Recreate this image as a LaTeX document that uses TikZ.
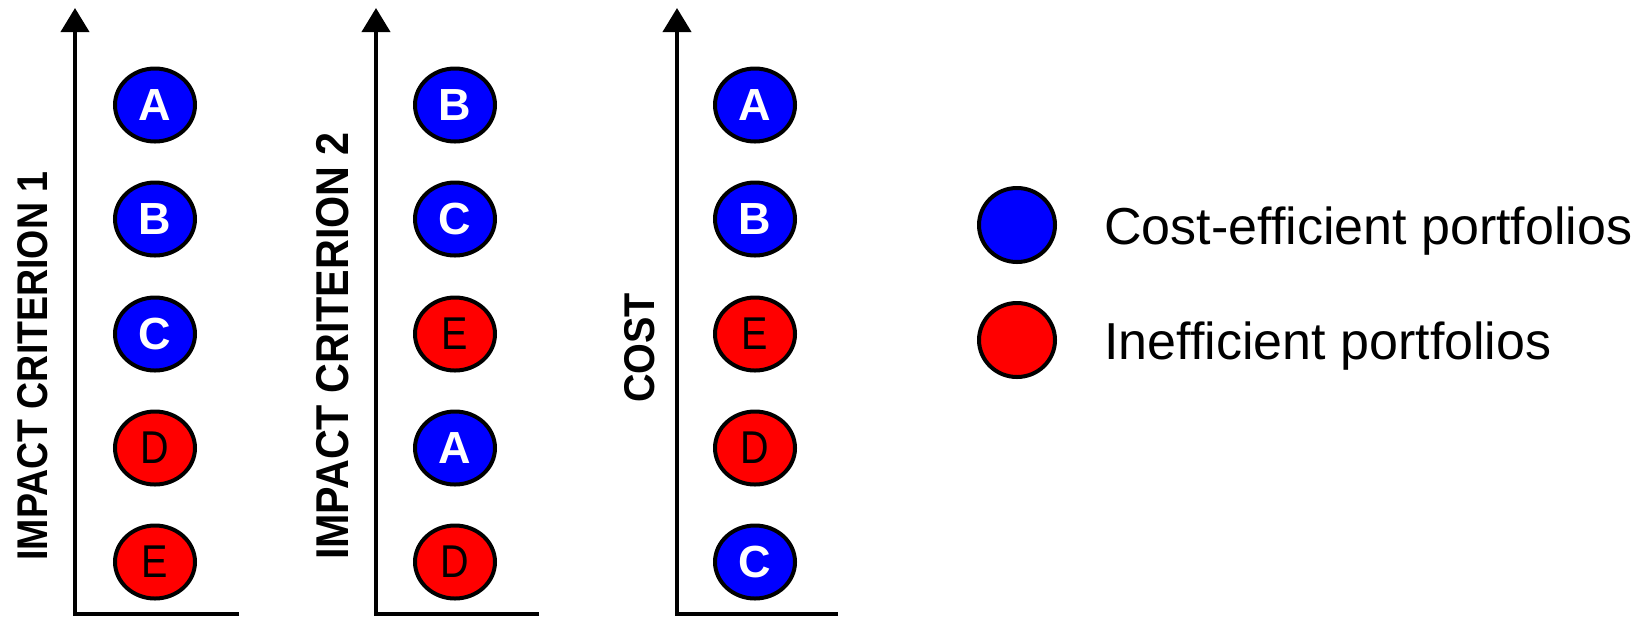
\documentclass[tikz,border=0pt]{standalone}
\usepackage{fontspec}
\usepackage{graphicx}
\usetikzlibrary{arrows.meta,shapes.geometric}
\newfontfamily\arialfont{Liberation Sans}
\definecolor{effblue}{RGB}{0,0,255}
\definecolor{ineffred}{RGB}{255,0,0}
\begin{document}
\begin{tikzpicture}[x=0.5pt,y=-0.5pt,
  axisline/.style={line width=2pt, line join=miter, -{Triangle[width=14pt,length=12pt]}},
  port/.style={ellipse, draw=black, line width=2pt, minimum width=40pt,
    minimum height=36.5pt, inner sep=0pt},
  eff/.style={port, fill=effblue, text=white,
    font=\arialfont\bfseries\fontsize{22.5}{26}\selectfont},
  ineff/.style={port, fill=ineffred, text=black,
    font=\arialfont\fontsize{23}{26}\selectfont},
  keydot/.style={ellipse, draw=black, line width=2pt, minimum width=38pt,
    minimum height=37pt, inner sep=0pt},
  keytext/.style={anchor=base west, inner sep=0pt,
    font=\arialfont\fontsize{26}{30}\selectfont},
  axislabel/.style={rotate=90, inner sep=0pt}
]
\useasboundingbox (0,0) rectangle (1641,618);

% axis corners and arrow ends
\coordinate (o1) at (75,614);  \coordinate (t1) at (75,8);  \coordinate (r1) at (239,614);
\coordinate (o2) at (376,614); \coordinate (t2) at (376,8); \coordinate (r2) at (539,614);
\coordinate (o3) at (677,614); \coordinate (t3) at (677,8); \coordinate (r3) at (838,614);

\draw[axisline] (r1) -- (o1) -- (t1);
\draw[axisline] (r2) -- (o2) -- (t2);
\draw[axisline] (r3) -- (o3) -- (t3);

% axis titles
\node[axislabel] (lab1) at (33,366)
  {\arialfont\bfseries\fontsize{21.5}{24}\selectfont\scalebox{0.873}[1]{IMPACT CRITERION 1}};
\node[axislabel] (lab2) at (333,346)
  {\arialfont\bfseries\fontsize{23}{26}\selectfont\scalebox{0.897}[1]{IMPACT CRITERION 2}};
\node[axislabel] (lab3) at (640,348)
  {\arialfont\bfseries\fontsize{21.5}{24}\selectfont\scalebox{0.92}[1]{COST}};

% ranking by impact criterion 1
\node[eff]   (p1a) at (155,105) {A};
\node[eff]   (p1b) at (155,219) {B};
\node[eff]   (p1c) at (155,334) {C};
\node[ineff] (p1d) at (155,448) {\scalebox{0.86}[1]{D}};
\node[ineff] (p1e) at (155,562) {\scalebox{0.86}[1]{E}};

% ranking by impact criterion 2
\node[eff]   (p2b) at (455,105) {B};
\node[eff]   (p2c) at (455,219) {C};
\node[ineff] (p2e) at (455,334) {\scalebox{0.86}[1]{E}};
\node[eff]   (p2a) at (455,448) {A};
\node[ineff] (p2d) at (455,562) {\scalebox{0.86}[1]{D}};

% ranking by cost
\node[eff]   (p3a) at (755,105) {A};
\node[eff]   (p3b) at (755,219) {B};
\node[ineff] (p3e) at (755,334) {\scalebox{0.86}[1]{E}};
\node[ineff] (p3d) at (755,448) {\scalebox{0.86}[1]{D}};
\node[eff]   (p3c) at (755,562) {C};

% legend
\node[keydot, fill=effblue]  (keyeff)   at (1017,225) {};
\node[keydot, fill=ineffred] (keyineff) at (1017,340) {};
\node[keytext] (txteff)   at (1104,244) {Cost-efficient portfolios};
\node[keytext] (txtineff) at (1104,359) {Inefficient portfolios};
\end{tikzpicture}
\end{document}
